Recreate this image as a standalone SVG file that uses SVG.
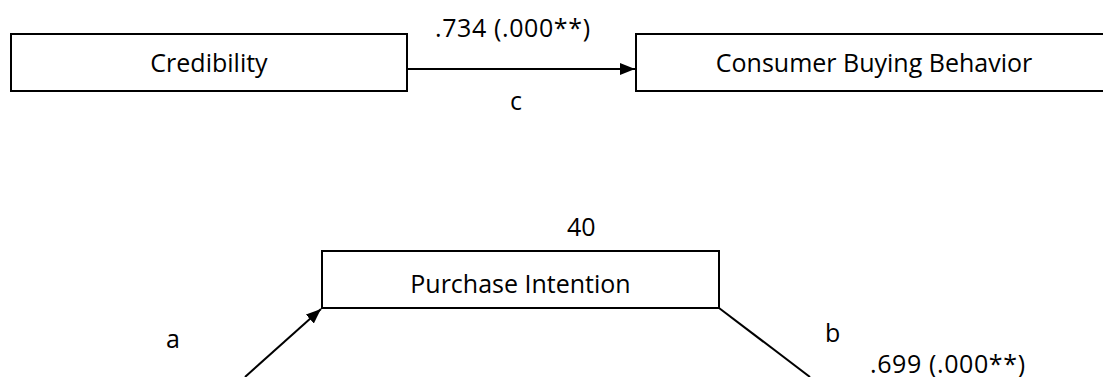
<svg xmlns="http://www.w3.org/2000/svg" width="1103" height="377" viewBox="0 0 1103 377">
  <style>
    .box { fill: #ffffff; stroke: #000000; stroke-width: 2; }
    .lbl { font-family: "Open Sans", "Liberation Sans", sans-serif; font-size: 25px; fill: #000000; }
    .mid { text-anchor: middle; }
    .edge { fill: none; stroke: #000000; stroke-width: 2; }
  </style>
  <defs>
    <marker id="arrow" markerWidth="16" markerHeight="12" refX="15" refY="6" orient="auto" markerUnits="userSpaceOnUse">
      <path d="M0,0 L15,6 L0,12 Z" fill="#000000"/>
    </marker>
  </defs>

  <rect x="0" y="0" width="1103" height="377" fill="#ffffff"/>

  <!-- nodes -->
  <g id="credibility">
    <rect class="box" x="11" y="34" width="396" height="57"/>
    <text class="lbl mid" x="209" y="72">Credibility</text>
  </g>
  <g id="consumer-buying-behavior">
    <rect class="box" x="636" y="34" width="480" height="57"/>
    <text class="lbl mid" x="874" y="72">Consumer Buying Behavior</text>
  </g>
  <g id="purchase-intention">
    <rect class="box" x="322" y="251" width="397" height="57"/>
    <text class="lbl mid" x="520.5" y="293">Purchase Intention</text>
  </g>

  <!-- connectors -->
  <g id="connectors">
    <line class="edge" x1="407" y1="69" x2="635" y2="69" marker-end="url(#arrow)"/>
    <line class="edge" x1="245" y1="377" x2="321" y2="309" marker-end="url(#arrow)"/>
    <line class="edge" x1="719" y1="308" x2="810" y2="377"/>
  </g>

  <!-- path labels -->
  <g id="labels">
    <text class="lbl" x="435" y="37" textLength="155">.734 (.000**)</text>
    <text class="lbl" x="510" y="110">c</text>
    <text class="lbl" x="567" y="236">40</text>
    <text class="lbl" x="166" y="348">a</text>
    <text class="lbl" x="825" y="342">b</text>
    <text class="lbl" x="870" y="373" textLength="155">.699 (.000**)</text>
  </g>
</svg>
